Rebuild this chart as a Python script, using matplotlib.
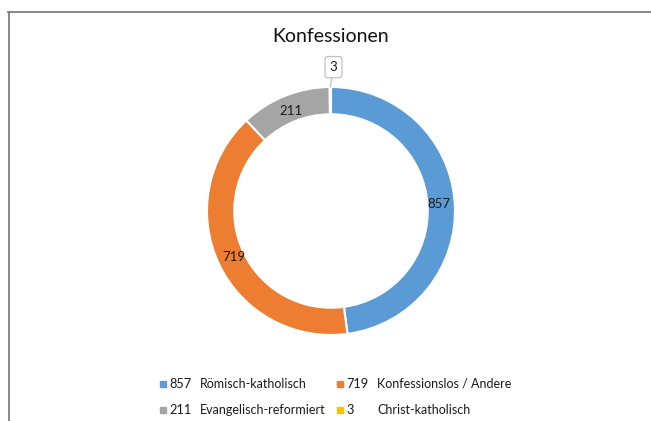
import numpy as np
import matplotlib.pyplot as plt
from matplotlib.lines import Line2D
from matplotlib.patches import Rectangle

# data
categories = ["Römisch-katholisch", "Konfessionslos / Andere",
              "Evangelisch-reformiert", "Christ-katholisch"]
values = [857, 719, 211, 3]
colors = ["#5B9BD5", "#ED7D31", "#A5A5A5", "#FFC000"]

W, H = 651, 421
plt.rcParams['font.family'] = ['Lato', 'DejaVu Sans']


def fx(px):
    return px / W


def fy(py):
    # pixel measured from top -> figure fraction
    return 1 - py / H


fig = plt.figure(figsize=(W / 100, H / 100), dpi=100)
fig.patch.set_facecolor('white')

# outer frame (top and left edges visible)
fig.add_artist(Line2D([fx(8), fx(651)], [fy(12), fy(12)], color='#7f7f7f', lw=1.3))
fig.add_artist(Line2D([fx(9), fx(9)], [fy(12), fy(421)], color='#7f7f7f', lw=1.3))

# donut
cx, cy, r = 331, 211, 124
ax = fig.add_axes([fx(cx - r), fy(cy + r), 2 * r / W, 2 * r / H])
wedges, _ = ax.pie(values, colors=colors, startangle=90, counterclock=False,
                   radius=1.0, wedgeprops=dict(width=0.22, edgecolor='white', linewidth=1.5))
ax.set_xlim(-1, 1)
ax.set_ylim(-1, 1)
ax.set_aspect('equal')
ax.axis('off')

# data labels
for w, v in zip(wedges, values):
    mid = np.deg2rad((w.theta1 + w.theta2) / 2)
    if v < 20:
        continue
    ax.text(0.87 * np.cos(mid), 0.87 * np.sin(mid), str(v), ha='center', va='center',
            fontsize=9.5, color='#1a1a1a')

# callout for the tiny slice
small = wedges[3]
mid = np.deg2rad((small.theta1 + small.theta2) / 2)
ax.annotate(str(values[3]), xy=(np.cos(mid), np.sin(mid)), xytext=(0.02, 1.16),
            textcoords='data', ha='center', va='center', fontsize=9.5, color='#1a1a1a',
            bbox=dict(boxstyle='round,pad=0.35,rounding_size=0.25', fc='white', ec='#bfbfbf', lw=0.9),
            arrowprops=dict(arrowstyle='-', color='#bfbfbf', lw=0.9, shrinkA=0, shrinkB=0),
            annotation_clip=False)

# title
fig.text(fx(331), fy(36), "Konfessionen", ha='center', va='center', fontsize=14, color='#111111')

# legend (two columns, two rows)
leg_pos = [(160, 384), (337, 384), (160, 410), (337, 410)]
for (lx, ly), cat, v, c in zip(leg_pos, categories, values, colors):
    fig.add_artist(Rectangle((fx(lx), fy(ly + 3)), 6 / W, 6 / H, color=c,
                             transform=fig.transFigure))
    fig.text(fx(lx + 9), fy(ly), str(v), ha='left', va='center', fontsize=9.2, color='#1a1a1a')
    fig.text(fx(lx + 40), fy(ly), cat, ha='left', va='center', fontsize=9, color='#1a1a1a')

fig.savefig('out.png', dpi=100)
